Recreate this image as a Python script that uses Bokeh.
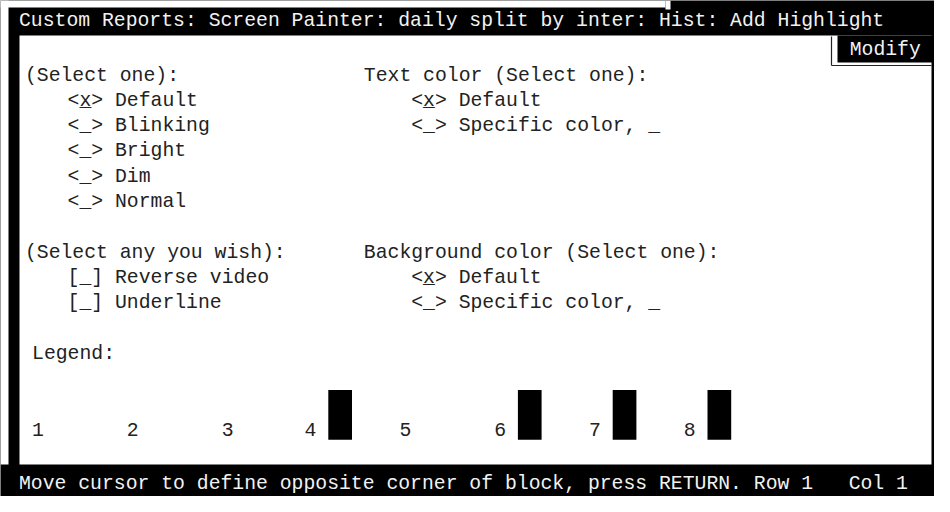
from bokeh.plotting import figure
from bokeh.models import ColumnDataSource, Range1d
from bokeh.core.properties import value
from bokeh.embed import file_html
from bokeh.resources import INLINE

NB = "\u00a0"  # keeps runs of spaces in the SVG text

# ---- screen content (data) ----
title_text = "Custom Reports: Screen Painter: daily split by inter: Hist: Add Highlight"
status_text = "Move cursor to define opposite corner of block, press RETURN. Row 1" + NB * 3 + "Col 1"
tab_label = "Modify"

left_texts = ["(Select one):", "<x> Default", "<_> Blinking", "<_> Bright", "<_> Dim", "<_> Normal",
              "(Select any you wish):", "[_] Reverse video", "[_] Underline", "Legend:"]
left_rows = [0, 1, 2, 3, 4, 5, 7, 8, 9, 11]
left_cols = [0.4, 4, 4, 4, 4, 4, 0.4, 4, 4, 1]

right_texts = ["Text color (Select one):", "<x> Default", "<_> Specific color, _",
               "Background color (Select one):", "<x> Default", "<_> Specific color, _"]
right_rows = [0, 1, 2, 7, 8, 9]
right_cols = [29, 33, 33, 29, 33, 33]

# selected radio markers (underlined x)
sel_rows = [1, 1, 8]
sel_cols = [5, 34, 34]

legend_labels = ["1", "2", "3", "4", "5", "6", "7", "8"]
legend_cols = [1, 9, 17, 24, 32, 40, 48, 56]
legend_highlight = [False, False, False, True, False, True, True, True]
legend_row = 14

# ---- grid geometry ----
X0 = 19.7      # left of column 0
CW = 11.85     # character cell width
Y0 = 75.0      # centre of row 0
RH = 25.3      # row height
FONT = value("Liberation Mono")
FS = "19.75px"
INK = "#222222"

def cx(c):
    return X0 + CW * c

def ry(r):
    return Y0 + RH * r

p = figure(width=934, height=496, output_backend="svg", toolbar_location=None,
           x_range=Range1d(0, 934), y_range=Range1d(496, 0),
           x_axis_location=None, y_axis_location=None, min_border=0)
p.background_fill_color = "black"
p.border_fill_color = "black"
p.outline_line_color = None
p.grid.visible = False

# white strips at the top-left edge of the captured screen
p.quad(left=[0, 0], right=[665, 8], top=[0, 0], bottom=[7, 464], fill_color="white", line_color=None)
p.quad(left=[665], right=[670], top=[0], bottom=[9], fill_color="white", line_color=None)

# white panel
p.quad(left=[19], right=[931], top=[35], bottom=[464], fill_color="white", line_color=None)
# Modify tab
p.quad(left=[837], right=[934], top=[35], bottom=[62], fill_color="black", line_color=None)
p.segment(x0=[831, 831], y0=[36, 65], x1=[831, 931], y1=[65, 65], line_color="#222222", line_width=1.2)

# title / status
p.text(x=[18.5], y=[20], text=[title_text], text_color="#f2f2f2", text_font=FONT,
       text_font_size=FS, text_baseline="middle", text_align="left")
p.text(x=[18.5], y=[483], text=[status_text], text_color="#f2f2f2", text_font=FONT,
       text_font_size=FS, text_baseline="middle", text_align="left")
p.text(x=[cx(70)], y=[49], text=[tab_label], text_color="#f2f2f2", text_font=FONT,
       text_font_size=FS, text_baseline="middle", text_align="left")

# panel texts
src_l = ColumnDataSource(dict(x=[cx(c) for c in left_cols], y=[ry(r) for r in left_rows], t=left_texts))
src_r = ColumnDataSource(dict(x=[cx(c) for c in right_cols], y=[ry(r) for r in right_rows], t=right_texts))
for s in (src_l, src_r):
    p.text(x="x", y="y", text="t", source=s, text_color=INK, text_font=FONT,
           text_font_size=FS, text_baseline="middle", text_align="left")

src_u = ColumnDataSource(dict(x=[cx(c) for c in sel_cols], y=[ry(r) for r in sel_rows], t=["_"] * len(sel_rows)))
p.text(x="x", y="y", text="t", source=src_u, text_color=INK, text_font=FONT,
       text_font_size=FS, text_baseline="middle", text_align="left")

# legend digits and highlight blocks
src_d = ColumnDataSource(dict(x=[cx(c) for c in legend_cols], y=[ry(legend_row)] * len(legend_cols), t=legend_labels))
p.text(x="x", y="y", text="t", source=src_d, text_color=INK, text_font=FONT,
       text_font_size=FS, text_baseline="middle", text_align="left")

hl_cols = [c for c, h in zip(legend_cols, legend_highlight) if h]
src_b = ColumnDataSource(dict(left=[cx(c + 2) for c in hl_cols], right=[cx(c + 4) for c in hl_cols],
                              top=[ry(legend_row - 1) - 14.5] * len(hl_cols),
                              bottom=[ry(legend_row) + 10] * len(hl_cols)))
p.quad(left="left", right="right", top="top", bottom="bottom", source=src_b,
       fill_color="black", line_color=None)

open("out.html", "w").write(file_html(p, INLINE))
